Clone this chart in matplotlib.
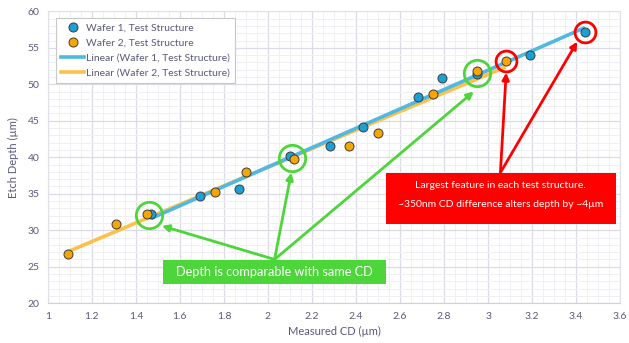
import matplotlib
matplotlib.use("Agg")
import matplotlib.pyplot as plt
import numpy as np
from matplotlib.ticker import MultipleLocator

plt.rcParams["font.family"] = ["Lato", "DejaVu Sans"]

# Measured CD (µm) vs etch depth (µm)
W1_CD = [1.47, 1.69, 1.87, 2.10, 2.28, 2.43, 2.68, 2.79, 2.95, 3.19, 3.44]
W1_DEPTH = [32.2, 34.7, 35.7, 40.2, 41.5, 44.2, 48.2, 50.9, 51.4, 54.0, 57.2]
W2_CD = [1.09, 1.31, 1.45, 1.76, 1.90, 2.12, 2.37, 2.50, 2.75, 2.95, 3.08]
W2_DEPTH = [26.8, 30.8, 32.2, 35.2, 38.0, 39.7, 41.6, 43.3, 48.7, 51.8, 53.2]

# highlighted points (same-CD pairs and largest features)
GREEN_CIRCLES = [(1.46, 32.1), (2.11, 39.95), (2.95, 51.6)]
RED_CIRCLES = [(3.08, 53.15), (3.44, 57.1)]

BLUE = "#1a9fd6"
ORANGE = "#f7a600"
BLUE_LINE = "#4fb9e3"
ORANGE_LINE = "#fdc04a"
GREEN = "#4cd63a"
RED = "#ff0000"
TXT = "#595979"

fig = plt.figure(figsize=(6.29, 3.43), dpi=100)
ax = fig.add_axes([0.076, 0.116, 0.910, 0.851])

# linear trendlines
for cd, d, col in [(W2_CD, W2_DEPTH, ORANGE_LINE), (W1_CD, W1_DEPTH, BLUE_LINE)]:
    k, b = np.polyfit(cd, d, 1)
    xs = np.array([min(cd), max(cd)])
    ax.plot(xs, k * xs + b, color=col, lw=2.6, solid_capstyle="butt", zorder=3)

ax.scatter(W1_CD, W1_DEPTH, s=42, color=BLUE, edgecolor="#3c3c3c", lw=0.7, zorder=4)
ax.scatter(W2_CD, W2_DEPTH, s=42, color=ORANGE, edgecolor="#3c3c3c", lw=0.7, zorder=5)

for x, y in GREEN_CIRCLES:
    ax.plot(x, y, "o", ms=19, mfc="none", mec=GREEN, mew=2, zorder=6)
for x, y in RED_CIRCLES:
    ax.plot(x, y, "o", ms=15, mfc="none", mec=RED, mew=2, zorder=6)

# green callout
for tx, ty in [(1.518, 30.6), (2.106, 37.9), (2.935, 49.0)]:
    ax.annotate("", xy=(tx, ty), xytext=(2.03, 26.0),
                arrowprops=dict(arrowstyle="-|>", color=GREEN, lw=2,
                                mutation_scale=10, shrinkA=0, shrinkB=0), zorder=7)
ax.add_patch(plt.Rectangle((1.523, 22.6), 1.011, 3.35, fc=GREEN, ec="none", zorder=8))
ax.text(2.03, 24.25, "Depth is comparable with same CD", color="white", fontsize=9.2,
        ha="center", va="center", zorder=9)

# red callout
for tx, ty in [(3.082, 51.6), (3.405, 55.85)]:
    ax.annotate("", xy=(tx, ty), xytext=(3.056, 37.9),
                arrowprops=dict(arrowstyle="-|>", color=RED, lw=2,
                                mutation_scale=10, shrinkA=0, shrinkB=0), zorder=7)
ax.add_patch(plt.Rectangle((2.534, 30.86), 1.046, 7.04, fc=RED, ec="none", zorder=8))
ax.text(3.057, 36.07, "Largest feature in each test structure.", color="white",
        fontsize=7.5, ha="center", va="center", zorder=9)
ax.text(3.057, 33.56, "~350nm CD difference alters depth by ~4µm", color="white",
        fontsize=7.5, ha="center", va="center", zorder=9)

ax.set_xlim(1, 3.6)
ax.set_ylim(20, 60)
ax.xaxis.set_major_locator(MultipleLocator(0.2))
ax.xaxis.set_minor_locator(MultipleLocator(0.05))
ax.yaxis.set_major_locator(MultipleLocator(5))
ax.yaxis.set_minor_locator(MultipleLocator(1))
ax.set_xticklabels([f"{v:g}" for v in ax.get_xticks()])
ax.grid(which="major", color="#dcdce6", lw=0.9, zorder=0)
ax.grid(which="minor", color="#efeff4", lw=0.7, zorder=0)
ax.set_axisbelow(True)
ax.tick_params(which="both", length=0, colors=TXT, labelsize=7.5, pad=6)
for s in ax.spines.values():
    s.set_color("#e0e0e8")
    s.set_linewidth(0.8)
ax.spines["bottom"].set_color("#d0d0d8")

ax.set_xlabel("Measured CD (µm)", color=TXT, fontsize=8, labelpad=4)
ax.set_ylabel("Etch Depth (µm)", color=TXT, fontsize=8, labelpad=6)

handles = [
    plt.Line2D([], [], ls="none", marker="o", ms=6.5, mfc=BLUE, mec="#3c3c3c", mew=0.7),
    plt.Line2D([], [], ls="none", marker="o", ms=6.5, mfc=ORANGE, mec="#3c3c3c", mew=0.7),
    plt.Line2D([], [], color=BLUE_LINE, lw=2.6),
    plt.Line2D([], [], color=ORANGE_LINE, lw=2.6),
]
labels = ["Wafer 1, Test Structure", "Wafer 2, Test Structure",
          "Linear (Wafer 1, Test Structure)", "Linear (Wafer 2, Test Structure)"]
leg = ax.legend(handles, labels, loc="upper left", bbox_to_anchor=(0.005, 0.995),
                fontsize=7.5, frameon=True, fancybox=False, handlelength=2.2,
                handletextpad=0.2, borderpad=0.5, labelspacing=0.55, framealpha=1)
leg.get_frame().set_edgecolor("#c8c8c8")
leg.get_frame().set_linewidth(0.8)
for t in leg.get_texts():
    t.set_color(TXT)

fig.savefig("out.png", dpi=100)
